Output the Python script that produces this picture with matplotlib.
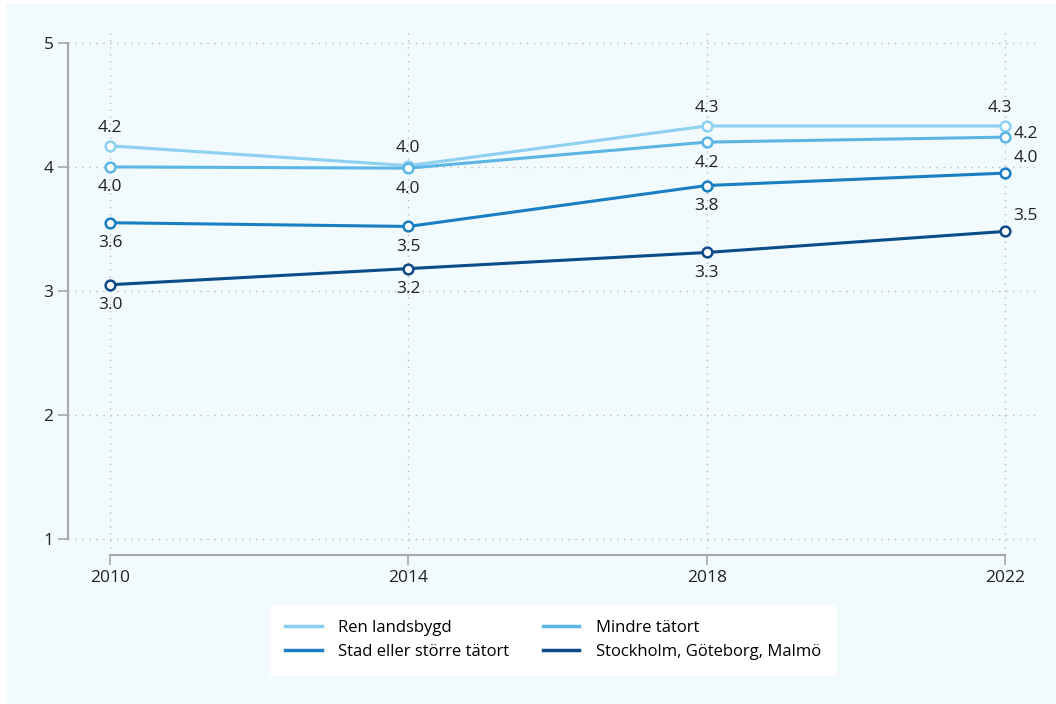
import matplotlib
matplotlib.use('Agg')
import matplotlib.pyplot as plt
from matplotlib.patches import Rectangle

plt.rcParams['font.family'] = ['Open Sans', 'DejaVu Sans']

years = [2010, 2014, 2018, 2022]
series_names = ['Ren landsbygd', 'Mindre tätort', 'Stad eller större tätort',
                'Stockholm, Göteborg, Malmö']
ren_landsbygd = [4.17, 4.01, 4.33, 4.33]
mindre_tatort = [4.00, 3.99, 4.20, 4.24]
stad = [3.55, 3.52, 3.85, 3.95]
storstad = [3.05, 3.18, 3.31, 3.48]
labels_ren = ['4.2', '4.0', '4.3', '4.3']
labels_mindre = ['4.0', '4.0', '4.2', '4.2']
labels_stad = ['3.6', '3.5', '3.8', '4.0']
labels_storstad = ['3.0', '3.2', '3.3', '3.5']

colors = ['#8dd0f2', '#5bb6e6', '#1a7fc2', '#0b4b87']
bg = '#f1fafd'

fig = plt.figure(figsize=(10.56, 7.04), dpi=100)
fig.patch.set_facecolor('white')
fig.patches.append(Rectangle((6 / 1056, 0), 1, 700 / 704, transform=fig.transFigure,
                             facecolor=bg, edgecolor='none', zorder=-10))

ax = fig.add_axes([68 / 1056, 149 / 704, (1040 - 68) / 1056, (555 - 28) / 704])
ax.set_facecolor('none')

all_series = [ren_landsbygd, mindre_tatort, stad, storstad]
all_labels = [labels_ren, labels_mindre, labels_stad, labels_storstad]
# where each value label goes: (dx, dy in points, ha, va)
offsets = [
    [(0, 7, 'center', 'bottom')] * 3 + [(-4, 7, 'center', 'bottom')],
    [(0, -9, 'center', 'top')] * 3 + [(6, 2, 'left', 'center')],
    [(0, -9, 'center', 'top')] * 3 + [(6, 5, 'left', 'bottom')],
    [(0, -9, 'center', 'top')] * 3 + [(6, 5, 'left', 'bottom')],
]

handles = []
for vals, labs, col, name, offs in zip(all_series, all_labels, colors, series_names, offsets):
    h, = ax.plot(years, vals, color=col, lw=2.2, marker='o', ms=7, mfc='white',
                 mec=col, mew=1.8, label=name, zorder=3)
    handles.append(h)
    for x, y, t, (dx, dy, ha, va) in zip(years, vals, labs, offs):
        ax.annotate(t, (x, y), xytext=(dx, dy), textcoords='offset points',
                    ha=ha, va=va, fontsize=12.5, color='#222222', zorder=4)

ax.set_xlim(2009.437, 2022.47)
ax.set_ylim(0.871, 5.12)
ax.set_xticks(years)
ax.set_yticks([1, 2, 3, 4, 5])
ax.grid(True, color='#bbbbbb', linestyle=(0, (1, 4)), lw=1)
ax.set_axisbelow(True)

for s in ['top', 'right']:
    ax.spines[s].set_visible(False)
ax.spines['left'].set_bounds(1, 5)
ax.spines['bottom'].set_bounds(2010, 2022)
for s in ['left', 'bottom']:
    ax.spines[s].set_color('#a8a8a8')
    ax.spines[s].set_linewidth(1.5)
ax.tick_params(axis='both', colors='#a8a8a8', length=7, width=1.2, labelsize=12.5,
               labelcolor='#222222')

# legend is filled row by row in the reference
order = [0, 2, 1, 3]
leg = fig.legend([handles[i] for i in order], [series_names[i] for i in order],
                 loc='center', bbox_to_anchor=(553 / 1056, 1 - 640 / 704), ncol=2,
                 frameon=True, fontsize=12, handlelength=2.2, columnspacing=2.0,
                 handletextpad=1.0, labelspacing=0.5, borderpad=0.9)
leg.get_frame().set_facecolor('white')
leg.get_frame().set_edgecolor('white')
leg.get_frame().set_alpha(1)
for line in leg.get_lines():
    line.set_marker('')
    line.set_linewidth(2.5)

fig.savefig('out.png', dpi=100)
